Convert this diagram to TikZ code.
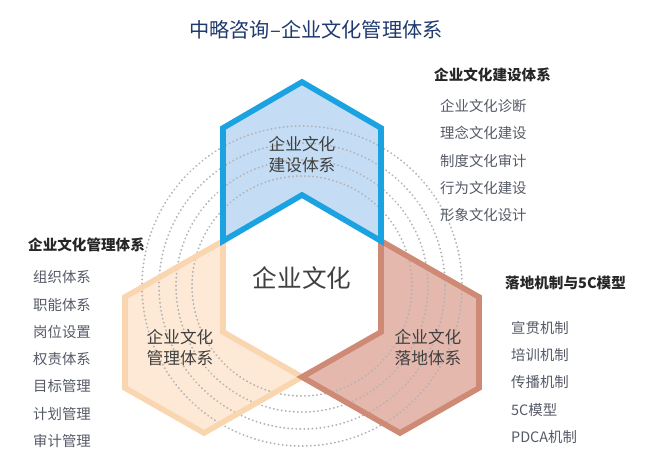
\documentclass[tikz,border=0pt]{standalone}
\usepackage{fontspec}
\setmainfont{Noto Sans CJK SC}
\usetikzlibrary{positioning}
\definecolor{navy}{HTML}{1F3A6E}
\definecolor{bluefill}{HTML}{C4DDF5}
\definecolor{blueline}{HTML}{1AA3E0}
\definecolor{peachfill}{HTML}{FDE9D5}
\definecolor{peachline}{HTML}{FAD6B0}
\definecolor{redfill}{HTML}{E4B8AC}
\definecolor{redline}{HTML}{CF8A76}
\definecolor{itemgray}{HTML}{555A66}

\tikzset{
  chevron/.style={line width=3.2pt, line join=miter},
  ring/.style={gray!60, line width=1.1pt, dash pattern=on 0.1pt off 2.2pt, line cap=round},
  blocklabel/.style={align=center, font=\fontsize{9.5}{12}\selectfont, text=black!75},
  listhead/.style={anchor=west, font=\bfseries\fontsize{8.3}{10}\selectfont, text=black!85},
  listitem/.style={anchor=west, font=\fontsize{8.2}{10}\selectfont, text=itemgray}
}

\begin{document}
\begin{tikzpicture}[x=0.02cm, y=-0.02cm]

\useasboundingbox (0,0) rectangle (650,470);

%Hexagon corners of the centre
\coordinate (T)  at (302,195);
\coordinate (UR) at (381,241);
\coordinate (LR) at (381,332);
\coordinate (B)  at (302,377);
\coordinate (LL) at (223,332);
\coordinate (UL) at (223,241);

%Chevron fills
\fill[peachfill] (UL) -- (LL) -- (B) -- ([shift={(-98,56)}]B) -- ([shift={(-98,56)}]LL) -- ([shift={(-98,56)}]UL) -- cycle;
\fill[redfill] (UR) -- (LR) -- (B) -- ([shift={(98,56)}]B) -- ([shift={(98,56)}]LR) -- ([shift={(98,56)}]UR) -- cycle;
\fill[bluefill] (UL) -- (T) -- (UR) -- ([shift={(0,-113)}]UR) -- ([shift={(0,-113)}]T) -- ([shift={(0,-113)}]UL) -- cycle;

%Dotted rings
\foreach \r in {110,126,143,160}
  \draw[ring] (302,286) circle (\r);
\fill[white] (T) -- (UR) -- (LR) -- (B) -- (LL) -- (UL) -- cycle;

%Chevron outlines
\draw[chevron, peachline] (UL) -- (LL) -- (B) -- ([shift={(-98,56)}]B) -- ([shift={(-98,56)}]LL) -- ([shift={(-98,56)}]UL) -- cycle;
\draw[chevron, redline] (UR) -- (LR) -- (B) -- ([shift={(98,56)}]B) -- ([shift={(98,56)}]LR) -- ([shift={(98,56)}]UR) -- cycle;
\draw[chevron, blueline] (UL) -- (T) -- (UR) -- ([shift={(0,-113)}]UR) -- ([shift={(0,-113)}]T) -- ([shift={(0,-113)}]UL) -- cycle;

%Title and labels
\node[text=navy, font=\fontsize{11.5}{13}\selectfont] (title) at (316,30) {中略咨询–企业文化管理体系};
\node[font=\fontsize{14}{16}\selectfont, text=black!75] (core) at (302,278) {企业文化};
\node[blocklabel] (build)  at (302,155) {企业文化\\建设体系};
\node[blocklabel] (manage) at (180,348) {企业文化\\管理体系};
\node[blocklabel] (land)   at (428,348) {企业文化\\落地体系};

%Lists
\node[listhead] (bh) at (428,75) {企业文化建设体系};
\foreach \t [count=\i] in {企业文化诊断,理念文化建设,制度文化审计,行为文化建设,形象文化设计}
  \node[listitem] (b\i) at (434,78+27.5*\i) {\t};

\node[listhead] (mh) at (22,245) {企业文化管理体系};
\foreach \t [count=\i] in {组织体系,职能体系,岗位设置,权责体系,目标管理,计划管理,审计管理}
  \node[listitem] (m\i) at (27,250+27.3*\i) {\t};

\node[listhead] (lh) at (499,283) {落地机制与5C模型};
\foreach \t [count=\i] in {宣贯机制,培训机制,传播机制,5C模型,PDCA机制}
  \node[listitem] (l\i) at (505,300+27.5*\i) {\t};

\end{tikzpicture}
\end{document}
